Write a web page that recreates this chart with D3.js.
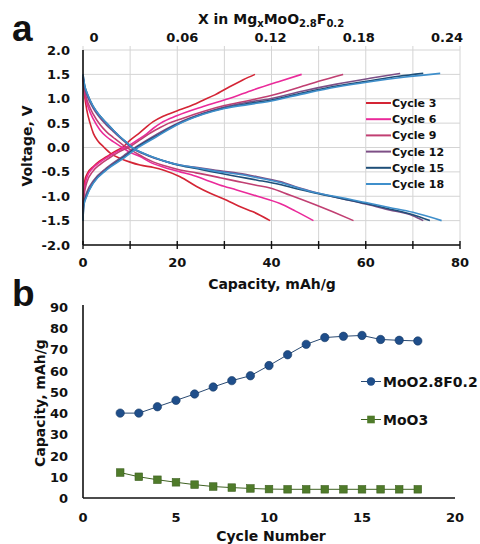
<!DOCTYPE html>
<html>
<head>
<meta charset="utf-8">
<script src="https://cdn.jsdelivr.net/npm/d3@7"></script>
<style>
  html, body { margin: 0; padding: 0; background: #fff; }
  svg { display: block; font-family: "DejaVu Sans", Verdana, sans-serif; font-weight: bold; }
</style>
</head>
<body>
<svg id="chart" width="480" height="544"></svg>
<script>
// ---- Panel a: voltage profiles, [capacity mAh/g, voltage V] ----
const cycleNames = ["Cycle 3", "Cycle 6", "Cycle 9", "Cycle 12", "Cycle 15", "Cycle 18"];
const cycleColors = ["#d42535", "#ea2a9a", "#c13f72", "#7d4f86", "#1f4f78", "#3f8fcb"];

const cycle3Charge = [[0,-1.25],[0.15,-0.95],[0.4,-0.67],[1,-0.52],[2.2,-0.39],[3.5,-0.28],[5,-0.19],[6.8,-0.08],[8.6,0.02],[10,0.15],[12,0.3],[14.9,0.53],[17,0.64],[19.9,0.75],[22.5,0.84],[25.5,0.97],[28,1.08],[31.2,1.25],[34,1.39],[36.5,1.5]];
const cycle3Discharge = [[0,1.4],[0.3,1.1],[0.8,0.77],[1.5,0.5],[2.2,0.29],[3.2,0.13],[4.3,0.02],[6,-0.13],[7.85,-0.22],[10,-0.3],[12.1,-0.36],[15,-0.41],[17,-0.46],[20.6,-0.6],[24.1,-0.8],[27,-0.94],[30.5,-1.08],[33,-1.2],[36.1,-1.32],[39.7,-1.5]];

const cycle6Charge = [[0,-1.3],[0.2,-0.95],[0.8,-0.62],[2,-0.43],[3.6,-0.3],[5.5,-0.18],[7.5,-0.07],[9.6,0.03],[11.5,0.15],[13.5,0.28],[15,0.4],[16.5,0.5],[19.9,0.65],[25.5,0.84],[31.2,1.01],[36.1,1.18],[41.8,1.36],[46.4,1.5]];
const cycle6Discharge = [[0,1.45],[0.5,1.05],[1.2,0.8],[2.2,0.58],[3.6,0.36],[5,0.22],[6.4,0.12],[8,0.02],[10,-0.1],[12,-0.18],[14.2,-0.3],[17,-0.4],[20.6,-0.5],[23,-0.56],[26.2,-0.67],[29,-0.77],[32.6,-0.87],[37,-1.0],[41.8,-1.15],[45,-1.3],[48.9,-1.5]];

const cycle9Charge = [[0,-1.35],[0.2,-1.0],[0.8,-0.72],[2,-0.5],[3.6,-0.35],[5.5,-0.22],[7.5,-0.1],[10,0.02],[12,0.15],[14,0.28],[16,0.39],[18,0.49],[20.6,0.58],[25.5,0.74],[30,0.86],[35,0.96],[39.7,1.06],[46.7,1.26],[50,1.36],[55.2,1.5]];
const cycle9Discharge = [[0,1.45],[0.5,1.1],[1.2,0.88],[2.2,0.68],[3.6,0.47],[5,0.32],[6.5,0.2],[8.5,0.05],[10.5,-0.07],[12.5,-0.18],[15,-0.3],[17.5,-0.38],[20.6,-0.46],[24,-0.52],[29.1,-0.62],[33,-0.7],[36.5,-0.77],[39.7,-0.83],[44,-0.98],[48.9,-1.16],[53,-1.32],[57.4,-1.5]];

const cycle12Charge = [[0,-1.45],[0.15,-1.15],[0.8,-0.92],[2.2,-0.68],[5,-0.42],[8.6,-0.17],[11.4,0.02],[15.6,0.27],[19.9,0.49],[25.5,0.7],[30,0.83],[35,0.93],[39.7,1.0],[46.7,1.16],[53.8,1.3],[60.9,1.42],[67.3,1.52]];
const cycle12Discharge = [[0,1.45],[0.3,1.25],[1,1.03],[2.2,0.8],[3.5,0.62],[5,0.46],[6.4,0.33],[7.85,0.2],[9.3,0.08],[10.7,-0.03],[12.8,-0.13],[14.9,-0.21],[18,-0.3],[20.6,-0.36],[25,-0.42],[29.1,-0.48],[33,-0.53],[37,-0.6],[41.8,-0.7],[46,-0.83],[50,-0.94],[55,-1.05],[60,-1.16],[65,-1.28],[70,-1.4],[72.2,-1.5]];

const cycle15Charge = [[0,-1.5],[0.15,-1.18],[0.8,-0.98],[2.2,-0.72],[5,-0.45],[8.6,-0.2],[11.4,0],[15.6,0.24],[19.9,0.47],[25.5,0.69],[30,0.81],[35,0.9],[39.7,0.97],[46.7,1.12],[53.8,1.26],[60.9,1.37],[67,1.46],[72.2,1.52]];
const cycle15Discharge = [[0,1.5],[0.3,1.3],[1,1.08],[2.2,0.84],[3.5,0.66],[5,0.5],[6.4,0.36],[7.85,0.22],[9.3,0.1],[10.7,-0.02],[12.8,-0.12],[14.9,-0.2],[18,-0.3],[20.6,-0.37],[25,-0.45],[29.1,-0.53],[33,-0.6],[37,-0.67],[41.8,-0.76],[46,-0.86],[50,-0.95],[55,-1.05],[60,-1.15],[65,-1.26],[70,-1.38],[73.6,-1.5]];

const cycle18Charge = [[0,-1.5],[0.15,-1.2],[0.8,-1.0],[2.2,-0.73],[5,-0.46],[8.6,-0.22],[11.4,-0.02],[15.6,0.22],[19.9,0.46],[25.5,0.68],[30,0.8],[35,0.88],[39.7,0.95],[46.7,1.1],[53.8,1.24],[60.9,1.35],[68,1.44],[75.8,1.52]];
const cycle18Discharge = [[0,1.5],[0.3,1.3],[1,1.08],[2.2,0.84],[3.5,0.66],[5,0.5],[6.4,0.36],[7.85,0.22],[9.3,0.1],[10.7,-0.02],[12.8,-0.12],[14.9,-0.2],[18,-0.3],[20.6,-0.36],[25,-0.43],[29.1,-0.5],[33,-0.55],[37,-0.62],[41.8,-0.72],[46,-0.84],[50,-0.94],[55,-1.03],[60,-1.13],[65,-1.23],[70,-1.33],[76.1,-1.5]];

const cycleCurves = [
  [cycle3Charge, cycle3Discharge],
  [cycle6Charge, cycle6Discharge],
  [cycle9Charge, cycle9Discharge],
  [cycle12Charge, cycle12Discharge],
  [cycle15Charge, cycle15Discharge],
  [cycle18Charge, cycle18Discharge]
];

const voltageTicks = [-2, -1.5, -1, -0.5, 0, 0.5, 1, 1.5, 2];
const capacityTicks = [0, 20, 40, 60, 80];
const capacityGrid = [0, 10, 20, 30, 40, 50, 60, 70, 80];
const magnesiumTicks = [0, 0.06, 0.12, 0.18, 0.24];

// ---- Panel b: capacity vs cycle number ----
const cycleNumbers = [2, 3, 4, 5, 6, 7, 8, 9, 10, 11, 12, 13, 14, 15, 16, 17, 18];
const capacityMoO28F02 = [40, 40, 43, 46, 49, 52.3, 55.3, 57.6, 62.4, 67.5, 72.4, 75.6, 76.2, 76.6, 74.7, 74.3, 74];
const capacityMoO3 = [12, 10, 8.6, 7.4, 6.3, 5.4, 4.9, 4.5, 4.2, 4.1, 4.1, 4.1, 4.1, 4.1, 4.1, 4.1, 4.1];
const seriesNames = ["MoO2.8F0.2", "MoO3"];
const cycleAxisTicks = [0, 5, 10, 15, 20];
const capacityAxisTicks = [0, 10, 20, 30, 40, 50, 60, 70, 80, 90];

const svg = d3.select("#chart");
const gridColor = "#d4d4d4";
const ink = "#111";

// ================= Panel a =================
const xA = d3.scaleLinear().domain([0, 80]).range([83, 460]);
const yA = d3.scaleLinear().domain([-2, 2]).range([245, 50]);
const xTop = d3.scaleLinear().domain([0, 0.24]).range([94, 447]);

const gA = svg.append("g");

// grid
gA.selectAll("line.hgrid").data(voltageTicks).join("line")
  .attr("x1", xA(0)).attr("x2", xA(80))
  .attr("y1", d => yA(d)).attr("y2", d => yA(d))
  .attr("stroke", gridColor).attr("stroke-width", 1);
gA.selectAll("line.vgrid").data(capacityGrid).join("line")
  .attr("x1", d => xA(d)).attr("x2", d => xA(d))
  .attr("y1", yA(2) - 4).attr("y2", yA(-2))
  .attr("stroke", gridColor).attr("stroke-width", 1);

// voltage curves
const lineA = d3.line().x(d => xA(d[0])).y(d => yA(d[1])).curve(d3.curveMonotoneX);
cycleCurves.forEach((pair, i) => {
  pair.forEach(curve => {
    gA.append("path").datum(curve)
      .attr("d", lineA)
      .attr("fill", "none")
      .attr("stroke", cycleColors[i])
      .attr("stroke-width", 1.6)
      .attr("stroke-linejoin", "round");
  });
});

// axes lines
gA.append("line").attr("x1", xA(0)).attr("x2", xA(0)).attr("y1", yA(2)).attr("y2", yA(-2))
  .attr("stroke", ink).attr("stroke-width", 1.6);
gA.append("line").attr("x1", xA(0)).attr("x2", xA(80)).attr("y1", yA(-2)).attr("y2", yA(-2))
  .attr("stroke", ink).attr("stroke-width", 1.6);
gA.selectAll("line.btick").data(capacityGrid).join("line")
  .attr("x1", d => xA(d)).attr("x2", d => xA(d))
  .attr("y1", yA(-2) - 4).attr("y2", yA(-2) + 4)
  .attr("stroke", ink).attr("stroke-width", 1.4);

// tick labels
gA.selectAll("text.ylab").data(voltageTicks).join("text")
  .attr("x", 70).attr("y", d => yA(d) + 4.5)
  .attr("text-anchor", "end").attr("font-size", 13).attr("fill", ink)
  .text(d => d.toFixed(1));
gA.selectAll("text.xlab").data(capacityTicks).join("text")
  .attr("x", d => xA(d)).attr("y", 267)
  .attr("text-anchor", "middle").attr("font-size", 13).attr("fill", ink)
  .text(d => d);
gA.selectAll("text.toplab").data(magnesiumTicks).join("text")
  .attr("x", d => xTop(d)).attr("y", 42)
  .attr("text-anchor", "middle").attr("font-size", 13).attr("fill", ink)
  .text(d => d === 0 ? "0" : d.toFixed(2));

// titles
const topTitle = gA.append("text").attr("x", 271).attr("y", 24)
  .attr("text-anchor", "middle").attr("font-size", 14).attr("fill", ink);
topTitle.append("tspan").text("X in Mg");
topTitle.append("tspan").attr("font-size", 10).attr("dy", 3).text("x");
topTitle.append("tspan").attr("dy", -3).text("MoO");
topTitle.append("tspan").attr("font-size", 10).attr("dy", 3).text("2.8");
topTitle.append("tspan").attr("dy", -3).text("F");
topTitle.append("tspan").attr("font-size", 10).attr("dy", 3).text("0.2");

gA.append("text").attr("transform", "translate(32,146) rotate(-90)")
  .attr("text-anchor", "middle").attr("font-size", 14).attr("fill", ink)
  .text("Voltage, V");
gA.append("text").attr("x", 272).attr("y", 289)
  .attr("text-anchor", "middle").attr("font-size", 14).attr("fill", ink)
  .text("Capacity, mAh/g");

svg.append("text").attr("x", 12).attr("y", 41)
  .attr("font-family", "Liberation Sans, Arial, sans-serif")
  .attr("font-size", 37).attr("font-weight", "bold").attr("fill", ink).text("a");

// legend a
const legA = gA.append("g");
cycleNames.forEach((name, i) => {
  const y = 103 + i * 16.2;
  legA.append("line").attr("x1", 366).attr("x2", 391).attr("y1", y).attr("y2", y)
    .attr("stroke", cycleColors[i]).attr("stroke-width", 2);
  legA.append("text").attr("x", 392).attr("y", y + 4)
    .attr("font-size", 11).attr("fill", ink).text(name);
});

// ================= Panel b =================
const xB = d3.scaleLinear().domain([0, 20]).range([83, 455]);
const yB = d3.scaleLinear().domain([0, 90]).range([498, 307]);
const gB = svg.append("g");

gB.append("line").attr("x1", xB(0)).attr("x2", xB(0)).attr("y1", yB(90) - 2).attr("y2", yB(0))
  .attr("stroke", ink).attr("stroke-width", 1.6);
gB.append("line").attr("x1", xB(0)).attr("x2", xB(20)).attr("y1", yB(0)).attr("y2", yB(0))
  .attr("stroke", ink).attr("stroke-width", 1.6);

gB.selectAll("text.ylab").data(capacityAxisTicks).join("text")
  .attr("x", 68).attr("y", d => yB(d) + 5)
  .attr("text-anchor", "end").attr("font-size", 13).attr("fill", ink)
  .text(d => d);
gB.selectAll("text.xlab").data(cycleAxisTicks).join("text")
  .attr("x", d => xB(d)).attr("y", 522)
  .attr("text-anchor", "middle").attr("font-size", 13).attr("fill", ink)
  .text(d => d);

gB.append("text").attr("transform", "translate(45,403) rotate(-90)")
  .attr("text-anchor", "middle").attr("font-size", 14).attr("fill", ink)
  .text("Capacity, mAh/g");
gB.append("text").attr("x", 271).attr("y", 541)
  .attr("text-anchor", "middle").attr("font-size", 14).attr("fill", ink)
  .text("Cycle Number");

svg.append("text").attr("x", 12).attr("y", 306)
  .attr("font-family", "Liberation Sans, Arial, sans-serif")
  .attr("font-size", 37).attr("font-weight", "bold").attr("fill", ink).text("b");

const lineB = d3.line().x((d, i) => xB(cycleNumbers[i])).y(d => yB(d));
const blue = "#1f4e8a", green = "#4f7b2a";

gB.append("path").datum(capacityMoO28F02).attr("d", lineB)
  .attr("fill", "none").attr("stroke", "#2a4a72").attr("stroke-width", 1);
gB.selectAll("circle.pt").data(capacityMoO28F02).join("circle")
  .attr("cx", (d, i) => xB(cycleNumbers[i])).attr("cy", d => yB(d)).attr("r", 4.2)
  .attr("fill", blue).attr("stroke", "#173a66").attr("stroke-width", 0.6);

gB.append("path").datum(capacityMoO3).attr("d", lineB)
  .attr("fill", "none").attr("stroke", "#3f6222").attr("stroke-width", 1);
gB.selectAll("rect.pt").data(capacityMoO3).join("rect")
  .attr("x", (d, i) => xB(cycleNumbers[i]) - 3.8).attr("y", d => yB(d) - 3.8)
  .attr("width", 7.6).attr("height", 7.6)
  .attr("fill", green).attr("stroke", "#3f6222").attr("stroke-width", 0.6);

// legend b
const legB = gB.append("g");
[[381.5, blue, "circle"], [419.5, green, "rect"]].forEach(([y, col, shape], i) => {
  legB.append("line").attr("x1", 361).attr("x2", 381).attr("y1", y).attr("y2", y)
    .attr("stroke", i === 0 ? "#2a4a72" : "#3f6222").attr("stroke-width", 1);
  if (shape === "circle") {
    legB.append("circle").attr("cx", 371).attr("cy", y).attr("r", 4.2).attr("fill", col);
  } else {
    legB.append("rect").attr("x", 367.2).attr("y", y - 3.8).attr("width", 7.6).attr("height", 7.6).attr("fill", col);
  }
  legB.append("text").attr("x", 383).attr("y", y + 5)
    .attr("font-size", 14).attr("fill", ink).text(seriesNames[i]);
});
</script>
</body>
</html>
